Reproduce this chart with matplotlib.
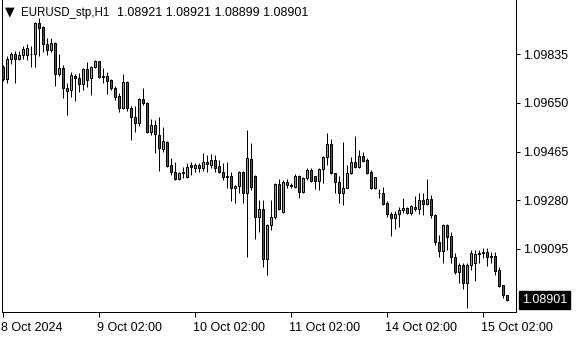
import matplotlib
matplotlib.use("Agg")
import matplotlib.pyplot as plt
import matplotlib.transforms as mtransforms

symbol = "EURUSD_stp,H1"
opens = [1.09787, 1.09739, 1.09815, 1.09834, 1.09815, 1.09830, 1.09831, 1.09836, 1.09834, 1.09953,
         1.09937, 1.09874, 1.09849, 1.09877, 1.09758, 1.09781, 1.09707, 1.09698, 1.09753, 1.09743,
         1.09720, 1.09778, 1.09743, 1.09787, 1.09808, 1.09753, 1.09753, 1.09736, 1.09705, 1.09677,
         1.09629, 1.09730, 1.09629, 1.09597, 1.09574, 1.09664, 1.09650, 1.09539, 1.09566, 1.09528,
         1.09473, 1.09502, 1.09414, 1.09386, 1.09360, 1.09382, 1.09369, 1.09414, 1.09401, 1.09414,
         1.09401, 1.09424, 1.09414, 1.09433, 1.09410, 1.09388, 1.09372, 1.09372, 1.09325, 1.09334,
         1.09388, 1.09306, 1.09435, 1.09372, 1.09218, 1.09246, 1.09056, 1.09186, 1.09215, 1.09342,
         1.09237, 1.09350, 1.09338, 1.09331, 1.09373, 1.09312, 1.09366, 1.09395, 1.09373, 1.09353,
         1.09399, 1.09443, 1.09492, 1.09382, 1.09348, 1.09306, 1.09328, 1.09382, 1.09424, 1.09407,
         1.09448, 1.09433, 1.09388, 1.09325, 1.09307, 1.09306, 1.09268, 1.09228, 1.09212, 1.09228,
         1.09243, 1.09249, 1.09230, 1.09253, 1.09246, 1.09281, 1.09266, 1.09284, 1.09224, 1.09123,
         1.09089, 1.09186, 1.09144, 1.09064, 1.09009, 1.09034, 1.08965, 1.09034, 1.09041, 1.09075,
         1.09079, 1.09085, 1.09068, 1.09068, 1.09015, 1.08957, 1.08921]
highs = [1.09793, 1.09827, 1.09844, 1.09846, 1.09846, 1.09865, 1.09873, 1.09865, 1.09956, 1.09973,
         1.09941, 1.09896, 1.09895, 1.09881, 1.09834, 1.09793, 1.09725, 1.09768, 1.09759, 1.09763,
         1.09781, 1.09806, 1.09789, 1.09812, 1.09810, 1.09783, 1.09768, 1.09740, 1.09715, 1.09686,
         1.09758, 1.09733, 1.09639, 1.09639, 1.09667, 1.09705, 1.09654, 1.09588, 1.09585, 1.09595,
         1.09559, 1.09505, 1.09441, 1.09426, 1.09386, 1.09407, 1.09420, 1.09426, 1.09420, 1.09420,
         1.09458, 1.09452, 1.09454, 1.09452, 1.09433, 1.09422, 1.09426, 1.09388, 1.09338, 1.09392,
         1.09391, 1.09547, 1.09498, 1.09376, 1.09281, 1.09281, 1.09190, 1.09281, 1.09347, 1.09360,
         1.09357, 1.09360, 1.09344, 1.09380, 1.09376, 1.09369, 1.09403, 1.09401, 1.09373, 1.09403,
         1.09449, 1.09534, 1.09512, 1.09385, 1.09373, 1.09502, 1.09414, 1.09445, 1.09525, 1.09471,
         1.09464, 1.09441, 1.09395, 1.09369, 1.09321, 1.09329, 1.09278, 1.09237, 1.09240, 1.09253,
         1.09287, 1.09253, 1.09262, 1.09296, 1.09306, 1.09309, 1.09360, 1.09300, 1.09228, 1.09148,
         1.09190, 1.09190, 1.09161, 1.09079, 1.09041, 1.09043, 1.09043, 1.09091, 1.09091, 1.09091,
         1.09098, 1.09098, 1.09085, 1.09085, 1.09026, 1.08957, 1.08921]
lows = [1.09734, 1.09725, 1.09796, 1.09724, 1.09812, 1.09815, 1.09812, 1.09786, 1.09786, 1.09827,
        1.09843, 1.09831, 1.09843, 1.09714, 1.09752, 1.09668, 1.09604, 1.09673, 1.09657, 1.09692,
        1.09698, 1.09711, 1.09679, 1.09782, 1.09743, 1.09724, 1.09683, 1.09698, 1.09660, 1.09616,
        1.09626, 1.09619, 1.09509, 1.09540, 1.09562, 1.09641, 1.09535, 1.09528, 1.09458, 1.09391,
        1.09464, 1.09407, 1.09376, 1.09357, 1.09357, 1.09363, 1.09366, 1.09376, 1.09386, 1.09388,
        1.09391, 1.09386, 1.09403, 1.09386, 1.09384, 1.09357, 1.09325, 1.09278, 1.09271, 1.09306,
        1.09268, 1.09066, 1.09319, 1.09132, 1.09161, 1.09026, 1.08996, 1.09167, 1.09208, 1.09243,
        1.09233, 1.09325, 1.09325, 1.09328, 1.09290, 1.09306, 1.09357, 1.09348, 1.09323, 1.09319,
        1.09344, 1.09414, 1.09380, 1.09306, 1.09268, 1.09262, 1.09325, 1.09380, 1.09401, 1.09401,
        1.09425, 1.09378, 1.09323, 1.09321, 1.09287, 1.09262, 1.09218, 1.09144, 1.09170, 1.09177,
        1.09230, 1.09228, 1.09224, 1.09240, 1.09228, 1.09224, 1.09262, 1.09212, 1.09110, 1.09064,
        1.09041, 1.09091, 1.09043, 1.09000, 1.08967, 1.08942, 1.08870, 1.09015, 1.08975, 1.09041,
        1.09060, 1.09030, 1.09041, 1.08996, 1.08952, 1.08908, 1.08899]
closes = [1.09739, 1.09815, 1.09834, 1.09815, 1.09830, 1.09855, 1.09856, 1.09834, 1.09953, 1.09935,
          1.09874, 1.09849, 1.09877, 1.09758, 1.09781, 1.09707, 1.09695, 1.09755, 1.09743, 1.09720,
          1.09778, 1.09736, 1.09787, 1.09808, 1.09749, 1.09749, 1.09733, 1.09705, 1.09673, 1.09629,
          1.09730, 1.09629, 1.09597, 1.09574, 1.09664, 1.09650, 1.09539, 1.09566, 1.09530, 1.09477,
          1.09505, 1.09411, 1.09386, 1.09360, 1.09382, 1.09386, 1.09405, 1.09405, 1.09414, 1.09401,
          1.09424, 1.09416, 1.09433, 1.09403, 1.09388, 1.09367, 1.09367, 1.09325, 1.09334, 1.09388,
          1.09306, 1.09439, 1.09331, 1.09218, 1.09246, 1.09056, 1.09186, 1.09215, 1.09342, 1.09246,
          1.09350, 1.09338, 1.09334, 1.09373, 1.09312, 1.09366, 1.09395, 1.09353, 1.09353, 1.09399,
          1.09443, 1.09492, 1.09382, 1.09348, 1.09306, 1.09328, 1.09382, 1.09424, 1.09407, 1.09448,
          1.09429, 1.09382, 1.09328, 1.09367, 1.09307, 1.09266, 1.09228, 1.09212, 1.09228, 1.09243,
          1.09249, 1.09230, 1.09258, 1.09246, 1.09281, 1.09266, 1.09284, 1.09224, 1.09123, 1.09089,
          1.09186, 1.09142, 1.09064, 1.09009, 1.09034, 1.08965, 1.09034, 1.09079, 1.09076, 1.09079,
          1.09085, 1.09066, 1.09066, 1.09013, 1.08955, 1.08920, 1.08901]
price_ticks = [1.09835, 1.09650, 1.09465, 1.09280, 1.09095]
time_tick_pos = [0, 24, 48, 72, 96, 120]
time_tick_labels = ["8 Oct 2024", "9 Oct 02:00", "10 Oct 02:00", "11 Oct 02:00",
                    "14 Oct 02:00", "15 Oct 02:00"]

UP = "#38d838"
DOWN = "#d41a1a"
FONT = ["Liberation Sans", "DejaVu Sans"]
plt.rcParams["font.family"] = FONT

W, H = 580, 340
fig = plt.figure(figsize=(W / 100, H / 100), dpi=100)
ax = fig.add_axes([2 / W, 28 / H, 514 / W, 312 / H])

lw = 0.72
for i, (o, h, l, c) in enumerate(zip(opens, highs, lows, closes)):
    ax.vlines(i, l, h, color="black", linewidth=lw, zorder=2)
    if abs(c - o) < 1e-6:
        ax.hlines(o, i - 0.3, i + 0.3, color="black", linewidth=lw, zorder=3)
    else:
        ax.bar(i, abs(c - o), bottom=min(o, c), width=0.5,
               color=UP if c > o else DOWN, edgecolor="black", linewidth=lw, zorder=3)

px = 0.00003795
ax.set_ylim(1.09095 - 63 * px, 1.09095 + 249 * px)
ax.set_xlim(-0.25, 128.25)

for s in ["left", "right", "bottom"]:
    ax.spines[s].set_color("black")
    ax.spines[s].set_linewidth(lw)
ax.spines["top"].set_visible(False)

ax.yaxis.tick_right()
ax.set_yticks(price_ticks)
ax.set_yticklabels([f"{v:.5f}" for v in price_ticks])
ax.tick_params(axis="y", direction="out", length=3, width=lw, pad=2,
               labelsize=9, colors="black")

ax.set_xticks(time_tick_pos)
ax.set_xticklabels(time_tick_labels)
ax.tick_params(axis="x", direction="out", length=3.5, width=lw, pad=3.6,
               labelsize=9, colors="black")
off = mtransforms.ScaledTranslation(-2 / 100, 0, fig.dpi_scale_trans)
for lab in ax.get_xticklabels():
    lab.set_ha("left")
    lab.set_transform(lab.get_transform() + off)

# current price box
ax.annotate(f"{closes[-1]:.5f}", xy=(1, closes[-1]), xycoords=("axes fraction", "data"),
            xytext=(6, 0), textcoords="offset pixels", ha="left", va="center",
            fontsize=9, color="white", annotation_clip=False,
            bbox=dict(boxstyle="square,pad=0.25", fc="black", ec="black"))

# header
fig.text(10 / W, 1 - 12 / H, "\u25BC", fontsize=9, family=["DejaVu Sans"],
         ha="center", va="center", color="black")
fig.text(21 / W, 1 - 13 / H, symbol, fontsize=8.3, ha="left", va="center", color="black")
fig.text(117 / W, 1 - 13 / H,
         f"{opens[-1]:.5f} {highs[-1]:.5f} {lows[-1]:.5f} {closes[-1]:.5f}",
         fontsize=9, ha="left", va="center", color="black")

fig.savefig("out.png", dpi=100, facecolor="white")
